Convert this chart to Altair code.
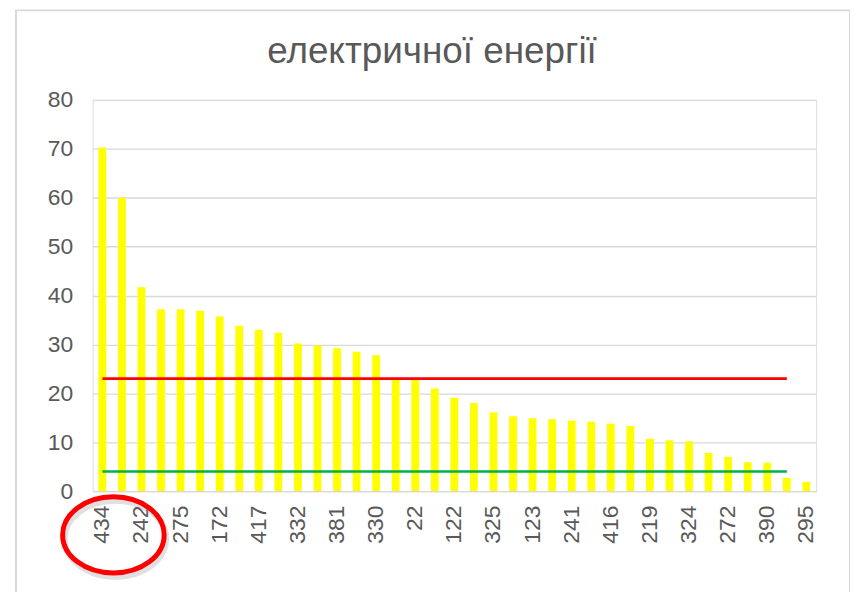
import json
import altair as alt
import pandas as pd

# ---- data ----
title_text = "електричної енергії"
values = [70.3, 60.0, 41.7, 37.2, 37.2, 36.9, 35.7, 33.8, 33.0, 32.4,
          30.2, 29.8, 29.2, 28.5, 27.8, 23.1, 22.8, 21.0, 19.1, 18.0,
          16.1, 15.3, 14.9, 14.7, 14.4, 14.2, 13.8, 13.3, 10.7, 10.4,
          10.2, 7.8, 7.0, 5.9, 5.8, 2.7, 1.9]
# only every other category label is shown in the reference
shown_labels = ["434", "242", "275", "172", "417", "332", "381", "330", "22",
                "122", "325", "123", "241", "416", "219", "324", "272", "390", "295"]
red_level = 23
green_level = 4
line_first_idx = 0
line_last_idx = 35

labels = []
for i in range(len(values)):
    labels.append(shown_labels[i // 2] if i % 2 == 0 else "")

bars_df = pd.DataFrame({"idx": list(range(len(values))), "value": values})
red_df = pd.DataFrame({"idx": [line_first_idx, line_last_idx], "v": [red_level, red_level]})
green_df = pd.DataFrame({"idx": [line_first_idx, line_last_idx], "v": [green_level, green_level]})
one_df = pd.DataFrame({"idx": [0], "title": [title_text]})

FONT = "Liberation Sans"
GRAY = "#595959"
GRID = "#D9D9D9"

x_scale = alt.Scale(paddingInner=0.6, paddingOuter=0.3)
y_scale = alt.Scale(domain=[0, 80])

x_axis = alt.Axis(
    title=None, labelAngle=-90, labelAlign="right", labelBaseline="middle",
    labelFont=FONT, labelFontSize=23, labelColor=GRAY, labelPadding=14,
    ticks=False, domain=True, domainColor=GRID, domainWidth=1.3,
    labelOverlap=False,
    labelExpr=json.dumps(labels, ensure_ascii=False) + "[datum.value]",
)
y_axis = alt.Axis(
    title=None, values=[0, 10, 20, 30, 40, 50, 60, 70, 80],
    labelFont=FONT, labelFontSize=23, labelColor=GRAY, labelPadding=20,
    ticks=False, domain=False, grid=True, gridColor=GRID, gridWidth=1.3,
)

bars = alt.Chart(bars_df).mark_bar(color="#FFFF00").encode(
    x=alt.X("idx:O", scale=x_scale, axis=x_axis, sort=None),
    y=alt.Y("value:Q", scale=y_scale, axis=y_axis),
)

red_line = alt.Chart(red_df).mark_line(color="#FF0000", strokeWidth=2.6).encode(
    x=alt.X("idx:O"), y=alt.Y("v:Q"),
)
green_line = alt.Chart(green_df).mark_line(color="#00B050", strokeWidth=2.6).encode(
    x=alt.X("idx:O"), y=alt.Y("v:Q"),
)

# chart frame (decorative)
frame = alt.Chart(one_df).mark_rect(fill=None, stroke=GRID, strokeWidth=2).encode(
    x=alt.value(-77), x2=alt.value(761), y=alt.value(-90), y2=alt.value(530),
)

# chart title as a text mark
title = alt.Chart(one_df).mark_text(
    font=FONT, fontSize=37, color=GRAY, align="center", baseline="alphabetic",
).encode(
    text="title:N", x=alt.value(341), y=alt.value(-37),
)

ellipse_path = "M -1 0 A 1 0.75 0 1 0 1 0 A 1 0.75 0 1 0 -1 0 Z"
shadow = alt.Chart(one_df).mark_point(
    shape=ellipse_path, filled=False, stroke="#888888", strokeWidth=6,
    opacity=0.25, size=102 * 102,
).encode(
    x=alt.X("idx:O"), xOffset=alt.value(17), y=alt.value(441),
)
ellipse = alt.Chart(one_df).mark_point(
    shape=ellipse_path, filled=False, stroke="#FF0000", strokeWidth=5,
    opacity=1, size=102 * 102,
).encode(
    x=alt.X("idx:O"), xOffset=alt.value(15), y=alt.value(437),
)

chart = alt.layer(frame, title, bars, red_line, green_line, shadow, ellipse).properties(
    width=727, height=393,
    autosize=alt.AutoSizeParams(type="none"),
    padding={"left": 85, "top": 91, "right": 34, "bottom": 100},
).configure_view(stroke=None).configure(background="white")

chart.save("out.html", embed_options={"renderer": "svg", "actions": False})
